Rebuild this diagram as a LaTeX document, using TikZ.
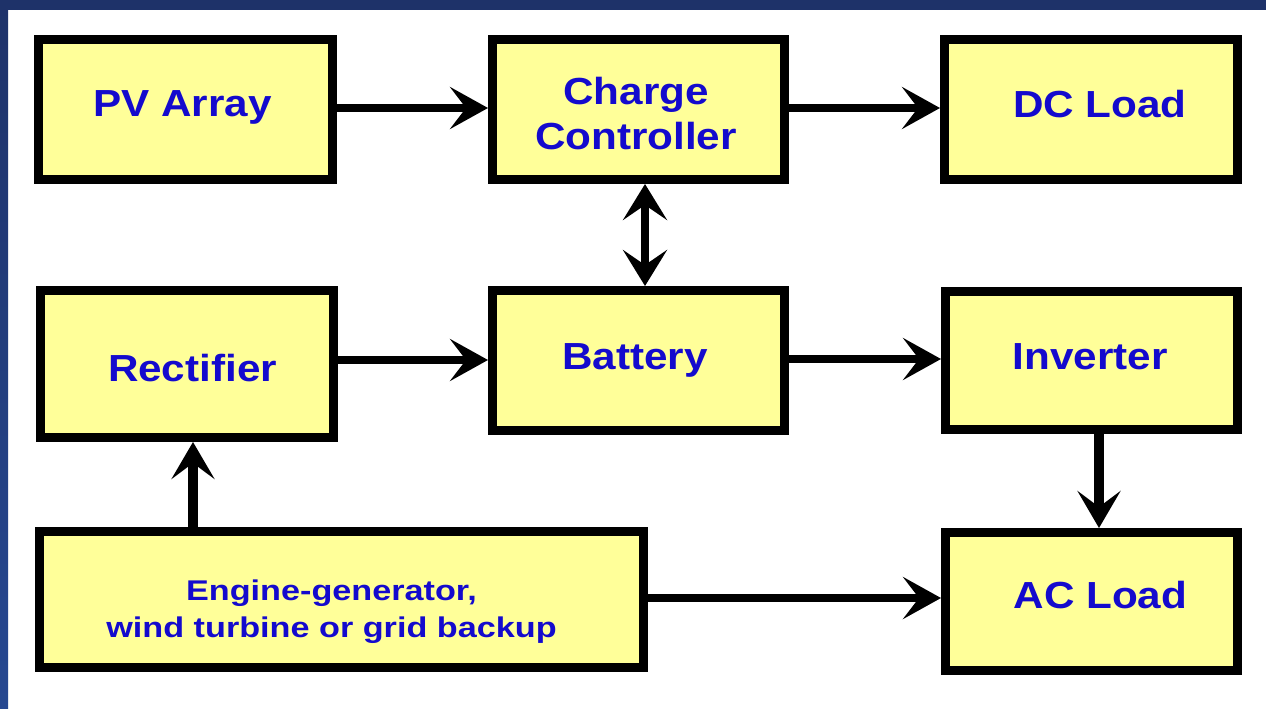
\documentclass[tikz,border=0pt]{standalone}
\usepackage{fontspec}
\setmainfont{Liberation Sans}
\newfontfamily\lblfont{Liberation Sans}[FakeStretch=1.12]
\newfontfamily\engfont{Liberation Sans}[FakeStretch=1.2]
\usetikzlibrary{arrows.meta}
\definecolor{navy}{RGB}{30,50,105}
\definecolor{navylight}{RGB}{38,72,145}
\definecolor{boxyellow}{RGB}{255,255,153}
\definecolor{txtblue}{RGB}{20,10,205}
\begin{document}
\begin{tikzpicture}[x=1pt,y=-1pt,
  box/.style={draw=black, line width=9pt, fill=boxyellow, inner sep=0pt,
    minimum width=292pt, minimum height=140pt},
  lbl/.style={text=txtblue, font=\lblfont\bfseries\fontsize{37.7}{45}\selectfont,
    align=center, inner sep=0pt},
  englbl/.style={text=txtblue, font=\engfont\bfseries\fontsize{28.5}{37}\selectfont,
    align=center, inner sep=0pt},
  conn/.style={line width=8pt, -{Stealth[length=38pt,width=42pt,inset=16pt]}},
  connb/.style={line width=8pt, {Stealth[length=36pt,width=44pt,inset=15pt]}-{Stealth[length=36pt,width=44pt,inset=15pt]}},
  connv/.style={line width=10pt, -{Stealth[length=37pt,width=43pt,inset=16pt]}}
]
% frame
\useasboundingbox (0,0) rectangle (1266,709);
\fill[white] (0,0) rectangle (1266,709);
\shade[top color=navy, bottom color=navylight] (0,0) rectangle (8,709);
\fill[navy] (0,0) rectangle (1266,10);

% boxes
\node[box, minimum width=294pt] (pv) at (185.5,109.5)
  [label={[lbl,xshift=-3pt,yshift=2pt]center:PV Array}] {};
\node[box] (cc) at (638.5,109.5)
  [label={[lbl,xshift=-2.5pt,yshift=-4.5pt]center:{Charge\\Controller}}] {};
\node[box, minimum width=293pt] (dc) at (1091,109.5)
  [label={[lbl,xshift=9pt,yshift=5.5pt]center:DC Load}] {};

\node[box, minimum width=293pt, minimum height=147pt] (rect) at (186.5,364)
  [label={[lbl,xshift=6pt,yshift=-4.5pt]center:Rectifier}] {};
\node[box] (bat) at (638.5,360.5)
  [label={[lbl,xshift=-3.5pt]center:Battery}] {};
\node[box, minimum height=138pt] (inv) at (1091.5,360.5)
  [label={[lbl,xshift=-1.5pt,yshift=4pt]center:Inverter}] {};

\node[box, minimum width=604pt, minimum height=136pt] (eng) at (341.5,599.5)
  [label={[englbl,xshift=-10pt,yshift=-12pt]center:{Engine-generator,\\wind turbine or grid backup}}] {};
\node[box, minimum height=138pt] (ac) at (1091.5,601.5)
  [label={[lbl,xshift=9pt,yshift=6.5pt]center:AC Load}] {};

% connectors
\draw[conn] (pv.east |- 0,108) -- (cc.west |- 0,108);
\draw[conn] (cc.east |- 0,108) -- (dc.west |- 0,108);
\draw[connb] ([xshift=6.5pt]cc.south) -- ([xshift=6.5pt]bat.north);
\draw[conn] (rect.east |- 0,360) -- (bat.west |- 0,360);
\draw[conn] (bat.east |- 0,359) -- (inv.west |- 0,359);
\draw[connv] ([xshift=7.5pt]inv.south) -- ([xshift=7.5pt]inv.south |- ac.north);
\draw[connv] ([xshift=6.5pt]rect.south |- eng.north) -- ([xshift=6.5pt]rect.south);
\draw[conn] (eng.east |- 0,598) -- (ac.west |- 0,598);
\end{tikzpicture}
\end{document}
